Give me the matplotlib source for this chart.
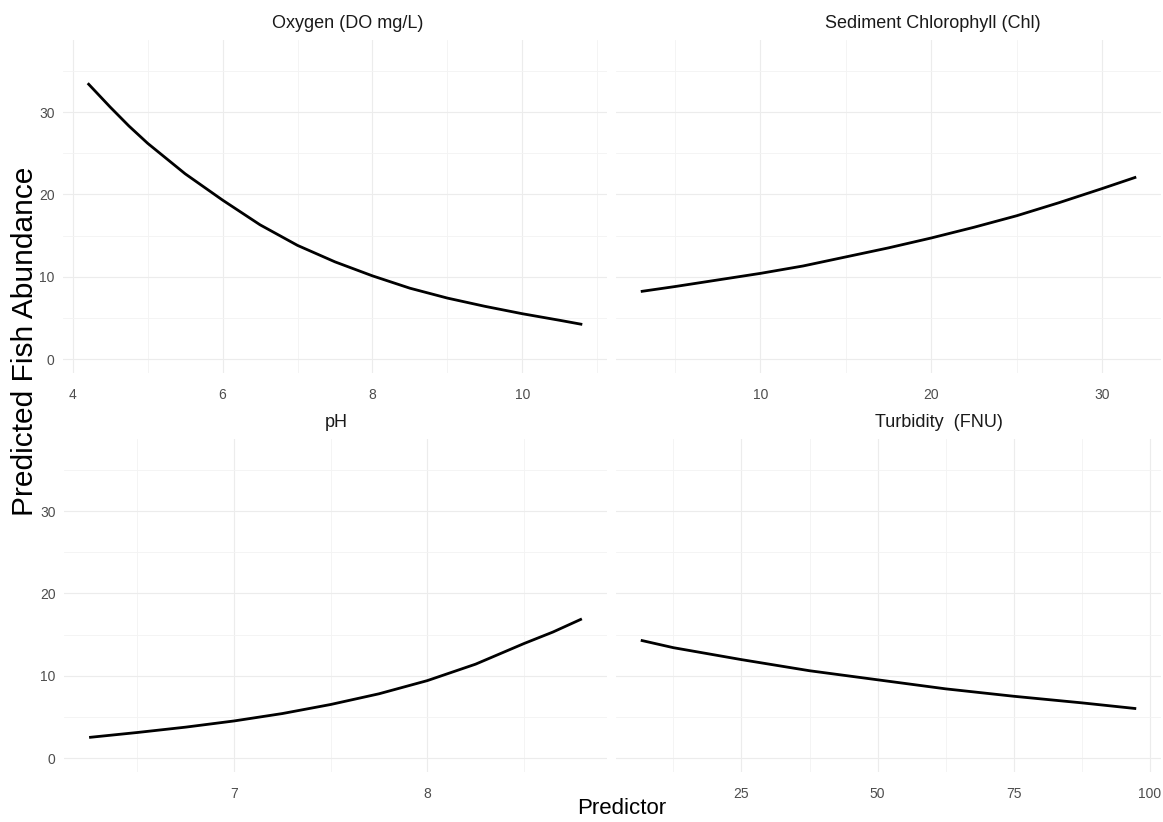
import matplotlib
matplotlib.use("Agg")
import matplotlib.pyplot as plt

plt.rcParams["font.family"] = ["Liberation Sans", "DejaVu Sans"]

# values (predictor, predicted abundance)
oxygen_x = [4.2, 4.5, 4.75, 5.0, 5.5, 6.0, 6.5, 7.0, 7.5, 8.0, 8.5, 9.0, 9.5, 10.0, 10.5, 10.8]
oxygen_y = [33.5, 30.6, 28.3, 26.2, 22.5, 19.3, 16.3, 13.8, 11.8, 10.1, 8.6, 7.4, 6.4, 5.5, 4.7, 4.2]

chl_x = [3.0, 5.0, 7.5, 10.0, 12.5, 15.0, 17.5, 20.0, 22.5, 25.0, 27.5, 30.0, 32.0]
chl_y = [8.2, 8.8, 9.6, 10.4, 11.3, 12.4, 13.5, 14.7, 16.0, 17.4, 19.0, 20.7, 22.1]

ph_x = [6.25, 6.5, 6.75, 7.0, 7.25, 7.5, 7.75, 8.0, 8.25, 8.5, 8.65, 8.8]
ph_y = [2.5, 3.1, 3.75, 4.5, 5.4, 6.5, 7.8, 9.4, 11.4, 13.9, 15.3, 16.9]

turb_x = [6.5, 12.5, 25.0, 37.5, 50.0, 62.5, 75.0, 87.5, 97.5]
turb_y = [14.3, 13.4, 11.95, 10.6, 9.5, 8.4, 7.5, 6.7, 6.0]

titles = ["Oxygen (DO mg/L)", "Sediment Chlorophyll (Chl)", "pH", "Turbidity  (FNU)"]
y_ticks = [0, 10, 20, 30]
y_minor = [5, 15, 25, 35]

panels = [
    # data, xlim, major, minor, rect, title x (axes fraction)
    (oxygen_x, oxygen_y, (3.87, 11.13), [4, 6, 8, 10], [5, 7, 9, 11],
     [63 / 1163, 1 - 373 / 822, 544 / 1163, 333 / 822], 0.523),
    (chl_x, chl_y, (1.55, 33.45), [10, 20, 30], [5, 15, 25],
     [616 / 1163, 1 - 373 / 822, 545 / 1163, 333 / 822], 0.582),
    (ph_x, ph_y, (6.12, 8.93), [7, 8], [6.5, 7.5, 8.5],
     [64 / 1163, 1 - 772 / 822, 543 / 1163, 333 / 822], 0.502),
    (turb_x, turb_y, (1.95, 102.05), [25, 50, 75, 100], [12.5, 37.5, 62.5, 87.5],
     [616 / 1163, 1 - 772 / 822, 545 / 1163, 333 / 822], 0.592),
]

fig = plt.figure(figsize=(11.63, 8.22), dpi=100)

for i, (xs, ys, xlim, major, minor, rect, tx) in enumerate(panels):
    ax = fig.add_axes(rect)
    ax.plot(xs, ys, color="black", linewidth=2.0, solid_capstyle="butt")
    ax.set_xlim(xlim)
    ax.set_ylim(-1.7, 38.75)
    ax.set_xticks(major)
    ax.set_xticks(minor, minor=True)
    ax.set_yticks(y_ticks)
    ax.set_yticks(y_minor, minor=True)
    ax.grid(True, which="major", color="#ececec", linewidth=0.8)
    ax.grid(True, which="minor", color="#f3f3f3", linewidth=0.6)
    ax.set_axisbelow(True)
    for s in ax.spines.values():
        s.set_visible(False)
    ax.tick_params(which="both", length=0)
    ax.tick_params(axis="x", pad=11, labelsize=10, labelcolor="#4d4d4d")
    ax.tick_params(axis="y", pad=6, labelsize=10, labelcolor="#4d4d4d")
    if i % 2 == 1:
        ax.set_yticklabels([])
    ax.text(tx, 1.05, titles[i], transform=ax.transAxes, ha="center",
            va="center", fontsize=13, color="#1a1a1a")

fig.text(25.5 / 1163, 1 - 341 / 822, "Predicted Fish Abundance", rotation=90,
         ha="center", va="center", fontsize=21.5)
fig.text(622 / 1163, 1 - 808 / 822, "Predictor", ha="center", va="center",
         fontsize=16)

fig.savefig("out.png", dpi=100, facecolor="white")
